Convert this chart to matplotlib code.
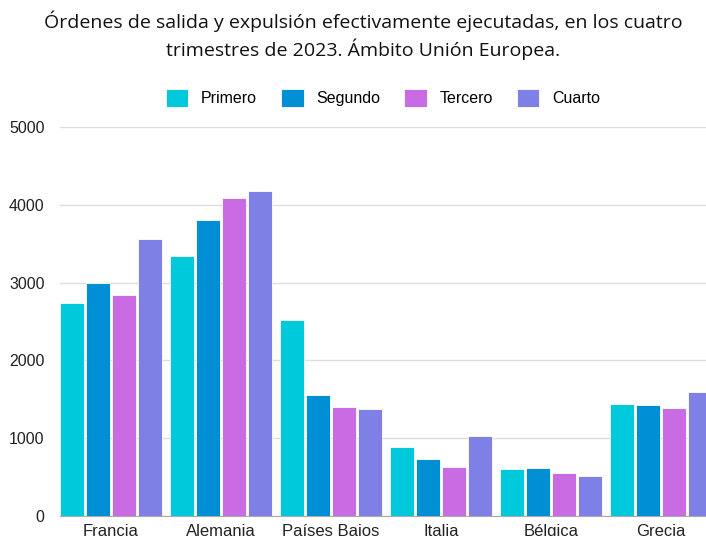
import numpy as np
import matplotlib.pyplot as plt

# Data
paises = ["Francia", "Alemania", "Países Bajos", "Italia", "Bélgica", "Grecia"]
trimestres = ["Primero", "Segundo", "Tercero", "Cuarto"]
primero = [2740, 3345, 2515, 885, 605, 1445]
segundo = [2995, 3800, 1560, 737, 615, 1428]
tercero = [2840, 4090, 1398, 630, 557, 1385]
cuarto = [3565, 4175, 1370, 1022, 518, 1598]
colores = ["#00C9DB", "#008FD5", "#C96CE4", "#7F80E6"]

series = [primero, segundo, tercero, cuarto]

fig = plt.figure(figsize=(7.06, 5.36), dpi=100)
# axes extends a bit past the right edge, like the cropped reference
ax = fig.add_axes([60 / 706, 20 / 536, 660 / 706, 389 / 536])

x = np.arange(len(paises))
step = 26 / 110
width = 24 / 110
for i, (vals, col, name) in enumerate(zip(series, colores, trimestres)):
    ax.bar(x + (i - 1.5) * step, vals, width, color=col, label=name,
           edgecolor="white", linewidth=0.6, zorder=3)

ax.set_xlim(-51 / 110, -51 / 110 + 6)
ax.set_ylim(0, 5000)
ax.set_yticks([0, 1000, 2000, 3000, 4000, 5000])
ax.set_xticks(x)
ax.set_xticklabels(paises)
ax.tick_params(axis="both", length=0, labelsize=11.5, colors="#222222",
               labelfontfamily="Liberation Sans")
ax.tick_params(axis="x", pad=6, labelsize=12)
ax.tick_params(axis="y", pad=11)
ax.grid(axis="y", color="#DDDDDD", linewidth=1, zorder=0)
for s in ["top", "right", "left"]:
    ax.spines[s].set_visible(False)
ax.spines["bottom"].set_color("#AAAAAA")
ax.spines["bottom"].set_zorder(4)

fig.text(363 / 706, 1 - 35 / 536,
         "Órdenes de salida y expulsión efectivamente ejecutadas, en los cuatro\n"
         "trimestres de 2023. Ámbito Unión Europea.",
         ha="center", va="center", fontsize=14, family="Open Sans",
         weight="medium", color="#111111", linespacing=1.4)

fig.legend(loc="center", bbox_to_anchor=(383 / 706, 1 - 98 / 536), ncol=4,
           frameon=False, prop={"family": "Liberation Sans", "size": 11.5},
           handlelength=1.4, handleheight=1.4, handletextpad=0.8,
           columnspacing=1.5)

fig.savefig("out.png", dpi=100)
